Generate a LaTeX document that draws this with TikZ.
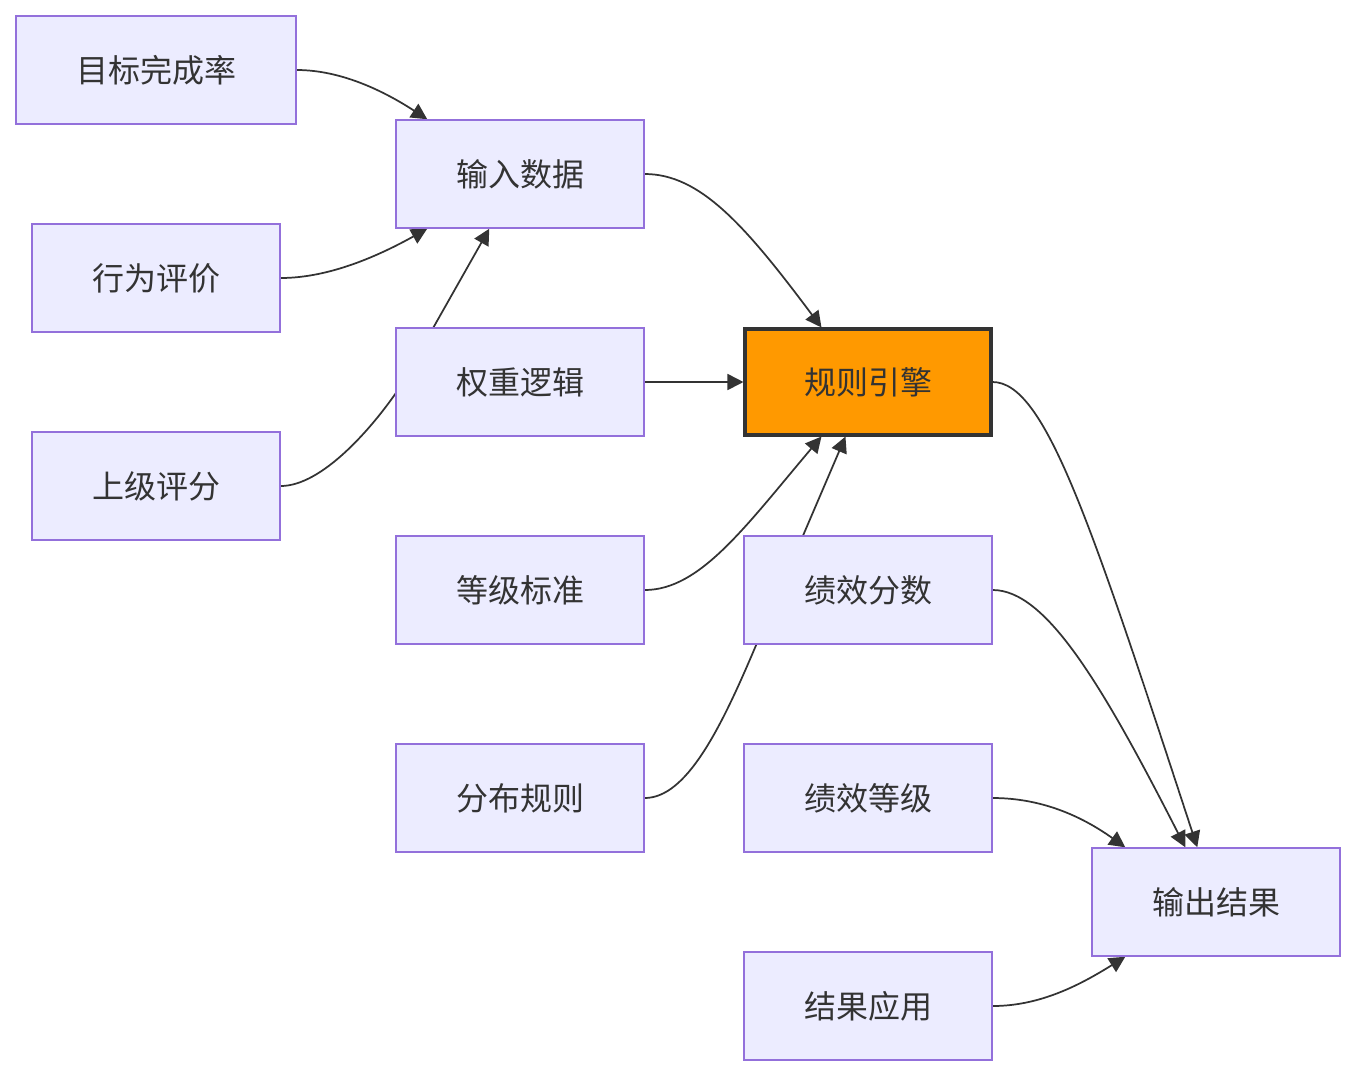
\documentclass[tikz,border=0pt]{standalone}
\usepackage{fontspec}
\setmainfont{Noto Sans CJK SC}
\usetikzlibrary{arrows.meta,calc}
\definecolor{nodefill}{HTML}{ECECFF}
\definecolor{nodeline}{HTML}{9370DB}
\definecolor{txt}{HTML}{333333}
\definecolor{engfill}{HTML}{FF9900}
\pgfdeclarelayer{bg}
\pgfsetlayers{bg,main}
\begin{document}
\begin{tikzpicture}[x=0.75pt,y=-0.75pt,
  box/.style={draw=nodeline,fill=nodefill,line width=1.1pt,minimum width=186pt,minimum height=81pt,
    inner sep=0pt,text=txt,font=\fontsize{24}{27}\selectfont},
  widebox/.style={box,minimum width=210pt},
  engbox/.style={box,fill=engfill,draw=txt,line width=2.8pt,minimum width=184pt,minimum height=79pt},
  edge/.style={draw=txt,line width=1.3pt,-{Triangle[length=12pt,width=12pt]}}]
\begin{pgfonlayer}{bg}
\fill[white] (0,0) rectangle (1356,1076);
\end{pgfonlayer}
\useasboundingbox (0,0) rectangle (1356,1076);
\node[widebox] (gt) at (156,70) {目标完成率};
\node[box] (bh) at (156,278) {行为评价};
\node[box] (sj) at (156,486) {上级评分};
\node[box] (in) at (520,174) {输入数据};
\node[box] (wt) at (520,382) {权重逻辑};
\node[box] (dj) at (520,590) {等级标准};
\node[box] (fb) at (520,798) {分布规则};
\node[engbox] (eng) at (868,382) {规则引擎};
\node[box] (fs) at (868,590) {绩效分数};
\node[box] (gr) at (868,798) {绩效等级};
\node[box] (yy) at (868,1006) {结果应用};
\node[box] (out) at (1216,902) {输出结果};
\begin{pgfonlayer}{bg}
% inputs
\draw[edge] (gt.east) .. controls (345,70) and (390,95) .. ($(in.north west)+(32,0)$);
\draw[edge] (bh.east) .. controls (330,278) and (380,255) .. ($(in.south west)+(32,0)$);
\draw[edge] (sj.east) .. controls (322,486) and (372,428) .. (398,390) -- ($(in.south west)+(94,0)$);
% to engine
\draw[edge] (in.east) .. controls (700,174) and (745,225) .. ($(eng.north west)+(78,0)$);
\draw[edge] (wt.east) -- (eng.west);
\draw[edge] (dj.east) .. controls (700,590) and (745,527) .. ($(eng.south west)+(78,0)$);
\draw[edge] (fb.east) .. controls (686,798) and (720,730) .. (754,650) -- ($(eng.south west)+(102,0)$);
% to output
\draw[edge] (eng.east) .. controls (1045,382) and (1090,520) .. ($(out.north west)+(106,0)$);
\draw[edge] (fs.east) .. controls (1045,590) and (1100,680) .. ($(out.north west)+(94,0)$);
\draw[edge] (gr.east) .. controls (1040,798) and (1080,815) .. ($(out.north west)+(34,0)$);
\draw[edge] (yy.east) .. controls (1040,1006) and (1080,985) .. ($(out.south west)+(34,0)$);
\end{pgfonlayer}
\end{tikzpicture}
\end{document}
